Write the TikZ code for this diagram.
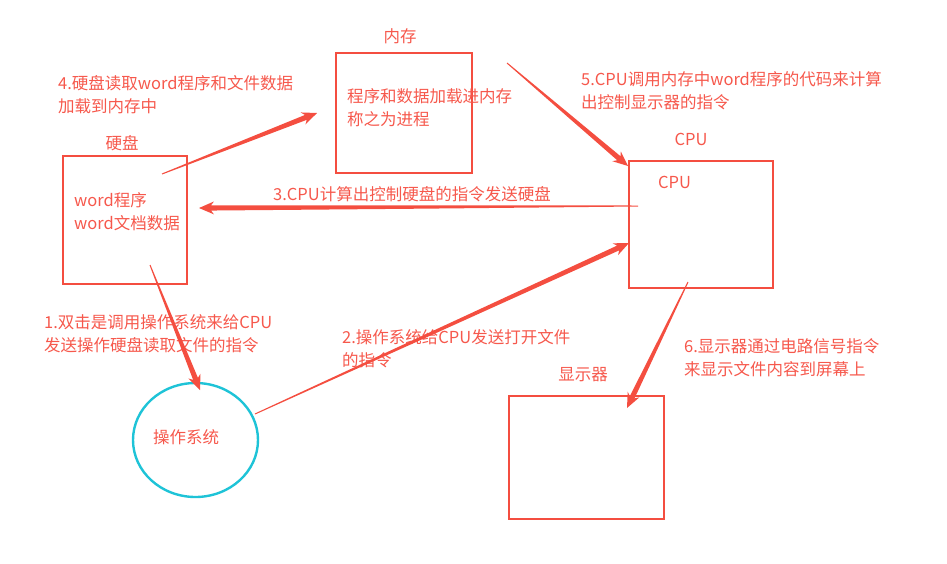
\documentclass[tikz,border=0pt]{standalone}
\usepackage{fontspec}
\setmainfont{Noto Sans CJK SC}
\usetikzlibrary{calc,shapes.geometric}
\definecolor{boxred}{RGB}{244,78,64}
\definecolor{txtred}{RGB}{246,88,76}
\definecolor{oscyan}{RGB}{30,195,215}
\tikzset{
  unit/.style={draw=boxred,line width=2.6pt,inner sep=0pt},
  lab/.style={text=txtred,inner sep=0pt,align=left,font=\fontsize{16.5}{23}\selectfont},
}
% tapered arrow, thin at the start, thick near the head
\newcommand\taper[2]{%
  \coordinate (tc) at ($(#2)!15pt!(#1)$);
  \coordinate (tn) at ($(#2)!12pt!(#1)$);
  \coordinate (tm) at ($(#1)!0.5!(#2)$);
  \fill[boxred] ($(#1)!0.5pt!90:(#2)$) -- ($(tm)!1.7pt!90:(#2)$)
    -- ($(tn)!2.6pt!90:(#2)$) -- ($(tc)!6.5pt!90:(#2)$) -- (#2)
    -- ($(tc)!6.5pt!-90:(#2)$) -- ($(tn)!2.6pt!-90:(#2)$)
    -- ($(tm)!1.7pt!-90:(#2)$) -- ($(#1)!0.5pt!-90:(#2)$) -- cycle;}
\begin{document}
\begin{tikzpicture}[x=1pt,y=-1pt]
  \useasboundingbox (0,0) rectangle (947,563);
  % units
  \node[unit,minimum width=124pt,minimum height=128pt](disk) at (125,220){};
  \node[unit,minimum width=136pt,minimum height=120pt](mem) at (404,113){};
  \node[unit,minimum width=144pt,minimum height=127pt](cpu) at (701,224.5){};
  \node[unit,minimum width=155pt,minimum height=123pt](screen) at (586.5,457.5){};
  \node[ellipse,draw=oscyan,line width=2.4pt,minimum width=125pt,minimum height=114pt](os) at (195.5,440){};
  % names and contents
  \node[lab](disklabel) at (122,143){硬盘};
  \node[lab,anchor=west](disktext) at (74,211.5){word程序\\word文档数据};
  \node[lab](memlabel) at (400,36){内存};
  \node[lab,anchor=west](memtext) at (347,107.5){程序和数据加载进内存\\称之为进程};
  \node[lab](cpulabel) at (691,139){CPU};
  \node[lab,anchor=west](cputext) at (658,182){CPU};
  \node[lab](screenlabel) at (583,375){显示器};
  \node[lab](ostext) at (186,437){操作系统};
  % steps
  \node[lab,anchor=west](s1) at (44,334){1.双击是调用操作系统来给CPU\\发送操作硬盘读取文件的指令};
  \node[lab,anchor=west](s2) at (342,349){2.操作系统给CPU发送打开文件\\的指令};
  \node[lab,anchor=west](s3) at (273,194){3.CPU计算出控制硬盘的指令发送硬盘};
  \node[lab,anchor=west](s4) at (58,94.5){4.硬盘读取word程序和文件数据\\加载到内存中};
  \node[lab,anchor=west](s5) at (581,91){5.CPU调用内存中word程序的代码来计算\\出控制显示器的指令};
  \node[lab,anchor=west](s6) at (684,358){6.显示器通过电路信号指令\\来显示文件内容到屏幕上};
  % arrow ends
  \coordinate (a1) at (150,265); \coordinate (b1) at (200,390);
  \coordinate (a2) at (255,414); \coordinate (b2) at (629,243);
  \coordinate (a3) at (638,206); \coordinate (b3) at (199,208);
  \coordinate (a4) at (162,174); \coordinate (b4) at (317,113);
  \coordinate (a5) at (507,63);  \coordinate (b5) at (628,166);
  \coordinate (a6) at (688,282); \coordinate (b6) at (627,408);
  \taper{a1}{b1}
  \taper{a2}{b2}
  \taper{a3}{b3}
  \taper{a4}{b4}
  \taper{a5}{b5}
  \taper{a6}{b6}
\end{tikzpicture}
\end{document}
